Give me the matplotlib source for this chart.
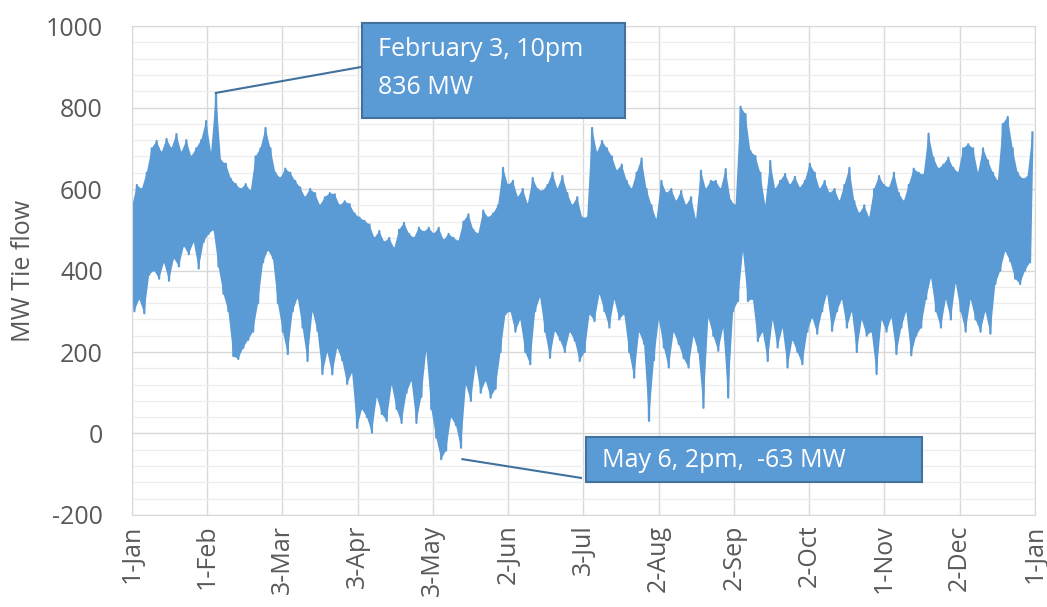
import numpy as np
import matplotlib
matplotlib.use("Agg")
import matplotlib.pyplot as plt
from matplotlib.patches import Rectangle
from matplotlib.ticker import MultipleLocator

plt.rcParams["font.family"] = ["Open Sans", "DejaVu Sans"]
plt.rcParams["axes.unicode_minus"] = False

# daily peaks, read every 2 days starting 1-Jan (MW)
hi = [555, 610, 600, 640, 700, 718, 690, 723, 700, 735, 690, 720, 680, 700, 720, 767, 690, 836,
      670, 662, 625, 612, 600, 612, 595, 680, 700, 750, 700, 640,
      627, 650, 640, 620, 604, 580, 600, 590, 560, 580, 590, 587, 560, 570, 563, 540, 530, 522,
      513, 480, 497, 470, 480, 455, 500, 517, 490, 480, 505, 495, 505,
      490, 505, 475, 490, 480, 472, 520, 538, 500, 490, 547, 530, 540, 560, 652, 610, 620, 580,
      600, 563, 627, 600, 595, 610, 640, 600, 632, 590, 560, 580, 530,
      530, 750, 690, 718, 700, 680, 645, 660, 620, 600, 640, 675, 600, 560, 525, 620, 590, 600,
      570, 595, 560, 580, 525, 645, 600, 620, 620, 600, 649, 572, 560,
      802, 784, 693, 681, 640, 560, 669, 600, 620, 637, 610, 630, 603, 620, 662, 640, 600, 620,
      590, 600, 570, 610, 652, 570, 540, 560, 530, 600, 632, 610, 603, 640, 590, 570, 610, 650,
      640, 635, 736, 677, 650, 660, 677, 652, 640, 700, 710, 700, 640, 700, 670, 640, 620, 760,
      777, 700, 640, 625, 630, 739]

# daily troughs, read every 2 days starting 2-Jan (MW)
lo = [300, 330, 295, 390, 400, 380, 420, 375, 430, 410, 460, 440, 470, 405, 470, 490, 500,
      410, 343, 300, 190, 183, 210, 230, 250, 320, 420, 450, 430, 320,
      250, 195, 300, 333, 260, 178, 300, 252, 146, 200, 145, 211, 180, 122, 150, 14, 60, 40,
      2, 90, 48, 31, 120, 60, 26, 100, 130, 26, 90, 203, 60,
      -10, -63, -42, 40, 20, -35, 120, 80, 170, 100, 130, 88, 110, 200, 293, 300, 250, 280,
      200, 170, 300, 335, 250, 186, 252, 230, 200, 250, 228, 178,
      200, 293, 276, 343, 300, 260, 330, 280, 293, 200, 137, 250, 220, 31, 180, 280, 211, 162,
      250, 220, 185, 162, 240, 200, 63, 285, 240, 203, 260, 88, 300,
      325, 448, 325, 330, 227, 250, 178, 280, 211, 260, 162, 230, 200, 170, 250, 285, 245, 300,
      343, 252, 300, 330, 260, 300, 200, 280, 240, 250, 146, 280, 250, 285, 195, 260, 300, 192,
      240, 260, 330, 383, 300, 260, 330, 280, 370, 300, 250, 330, 280, 250, 300, 245, 367, 400,
      448, 423, 380, 367, 400, 420]

tick_labels = ["1-Jan", "1-Feb", "3-Mar", "3-Apr", "3-May", "2-Jun", "3-Jul",
               "2-Aug", "2-Sep", "2-Oct", "1-Nov", "2-Dec", "1-Jan"]

peak_hour = 33 * 24 + 22
peak_mw = 836
low_hour = 125 * 24 + 14
low_mw = -63

# interleave peaks and troughs, one value per day
flow = np.empty(len(hi) + len(lo))
flow[0::2] = hi
flow[1::2] = lo
hours = np.arange(len(flow)) * 24
t_hi = hours[0::2]
t_lo = hours[1::2]

blue = "#5B9BD5"
edge = "#41719C"
grey = "#595959"
fs = 18

fig = plt.figure(figsize=(10.47, 6.07), dpi=100)
ax = fig.add_axes([0.126, 0.1516, 0.8625, 0.8054])

# band between daily peaks and troughs, then the flow line itself
ax.fill(np.r_[t_hi, t_lo[::-1]], np.r_[hi, lo[::-1]], color=blue, lw=0)
ax.plot(hours, flow, color=blue, lw=1.6)

ax.set_xlim(0, 8760)
ax.set_ylim(-200, 1000)
ax.set_xticks(np.arange(13) * 730)
ax.set_xticklabels(tick_labels, rotation=90, fontsize=fs, color=grey)
ax.yaxis.set_major_locator(MultipleLocator(200))
ax.yaxis.set_minor_locator(MultipleLocator(40))
ax.tick_params(axis="y", labelsize=fs, labelcolor=grey, length=0, pad=21)
ax.tick_params(axis="y", which="minor", length=0)
ax.tick_params(axis="x", length=0, pad=7)
ax.grid(which="major", color="#D9D9D9", lw=1.0)
ax.grid(which="minor", axis="y", color="#EDEDED", lw=0.9)
ax.set_axisbelow(True)
for s in ax.spines.values():
    s.set_color("#D9D9D9")
ax.set_ylabel("MW Tie flow", fontsize=fs, color=grey, labelpad=7)

# annotation boxes
box1 = Rectangle((93 * 24, 774), (199.3 - 93) * 24, 233, facecolor=blue, edgecolor=edge,
                 lw=1.5, clip_on=False, zorder=5)
ax.add_patch(box1)
ax.text(99.5 * 24, 942, "February 3, 10pm", color="white", fontsize=fs, va="center",
        ha="left", zorder=6)
ax.text(99.5 * 24, 850, "836 MW", color="white", fontsize=fs, va="center", ha="left", zorder=6)
ax.plot([peak_hour, 93 * 24], [peak_mw, 900], color=edge, lw=1.5, zorder=5, clip_on=False)

box2 = Rectangle((183.5 * 24, -119), (319.3 - 183.5) * 24, 111, facecolor=blue, edgecolor=edge,
                 lw=1.5, clip_on=False, zorder=5)
ax.add_patch(box2)
ax.text(190 * 24, -66, "May 6, 2pm,  -63 MW", color="white", fontsize=fs, va="center",
        ha="left", zorder=6)
ax.plot([low_hour + 8 * 24, 181.5 * 24], [low_mw, -109], color=edge, lw=1.5, zorder=5)

fig.savefig("out.png", dpi=100)
